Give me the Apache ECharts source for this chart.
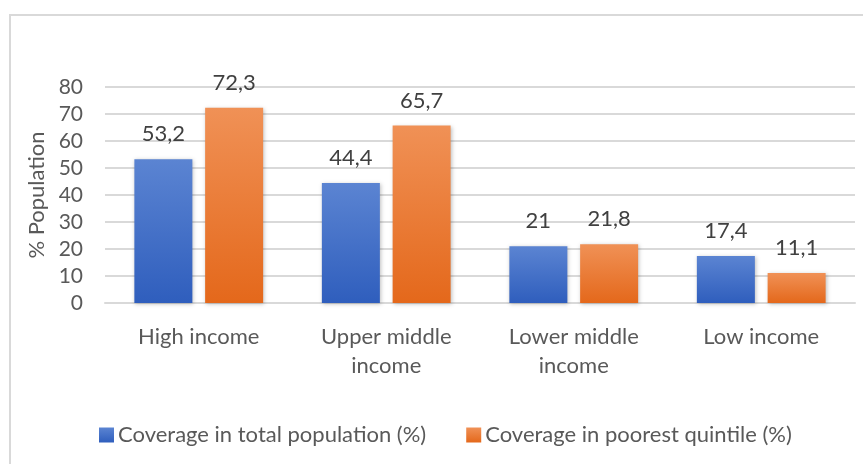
<!DOCTYPE html>
<html>
<head>
<meta charset="utf-8">
<script src="https://cdn.jsdelivr.net/npm/echarts@6/dist/echarts.min.js"></script>
<style>
  html, body { margin: 0; padding: 0; background: #ffffff; }
  #frame { position: absolute; left: 9px; top: 14px; width: 870px; height: 470px; border: 2px solid #d9d9d9; box-sizing: border-box; }
  #chart { position: absolute; left: 0; top: 0; width: 863px; height: 464px; }
</style>
</head>
<body>
<div id="frame"></div>
<div id="chart"></div>
<script>
const categories = ['High income', 'Upper middle\nincome', 'Lower middle\nincome', 'Low income'];
const totalCoverage = [53.2, 44.4, 21, 17.4];
const poorestCoverage = [72.3, 65.7, 21.8, 11.1];
const seriesNames = ['Coverage in total population (%)', 'Coverage in poorest quintile (%)'];
const yTicks = { min: 0, max: 80, interval: 10 };

const FONT = 'Lato, "Open Sans", sans-serif';
const AXIS_TEXT = '#595959';
const LABEL_TEXT = '#404040';

function grad(top, bottom) {
  return new echarts.graphic.LinearGradient(0, 0, 0, 1, [
    { offset: 0, color: top },
    { offset: 1, color: bottom }
  ]);
}

// decimal comma, as printed on the bars
const fmt = p => String(p.value).replace('.', ',');

const barShadow = { shadowColor: 'rgba(0,0,0,0.25)', shadowBlur: 4, shadowOffsetX: 1, shadowOffsetY: 1 };
const valueLabel = { show: true, position: 'top', distance: 14, color: LABEL_TEXT, fontSize: 22, fontFamily: FONT, formatter: fmt };

const chart = echarts.init(document.getElementById('chart'), null, { renderer: 'canvas' });
chart.setOption({
  animation: false,
  textStyle: { fontFamily: FONT },
  grid: { left: 105, right: 8, top: 87, bottom: 161, containLabel: false },
  legend: {
    top: 419,
    left: 94,
    itemWidth: 15,
    itemHeight: 15,
    itemGap: 40,
    icon: 'rect',
    textStyle: { color: AXIS_TEXT, fontSize: 22, fontFamily: FONT, padding: [0, 0, 0, -1] },
    data: seriesNames
  },
  xAxis: {
    type: 'category',
    data: categories,
    axisLine: { lineStyle: { color: '#d9d9d9', width: 2 } },
    axisTick: { show: false },
    axisLabel: { color: AXIS_TEXT, fontSize: 22, margin: 19, lineHeight: 29, fontFamily: FONT }
  },
  yAxis: {
    type: 'value',
    min: yTicks.min,
    max: yTicks.max,
    interval: yTicks.interval,
    name: '% Population',
    nameLocation: 'middle',
    nameGap: 57,
    nameRotate: 90,
    nameTextStyle: { color: AXIS_TEXT, fontSize: 22, fontFamily: FONT },
    axisLine: { show: false },
    axisTick: { show: false },
    axisLabel: { color: AXIS_TEXT, fontSize: 21, margin: 22, fontFamily: FONT },
    splitLine: { lineStyle: { color: '#d9d9d9', width: 2 } }
  },
  series: [
    {
      name: seriesNames[0],
      type: 'bar',
      data: totalCoverage,
      barWidth: 58,
      barGap: '22%',
      itemStyle: Object.assign({ color: grad('#5b84d2', '#2f5ebd') }, barShadow),
      label: valueLabel
    },
    {
      name: seriesNames[1],
      type: 'bar',
      data: poorestCoverage,
      barWidth: 58,
      itemStyle: Object.assign({ color: grad('#f09156', '#e4681b') }, barShadow),
      label: valueLabel
    }
  ]
});
</script>
</body>
</html>
